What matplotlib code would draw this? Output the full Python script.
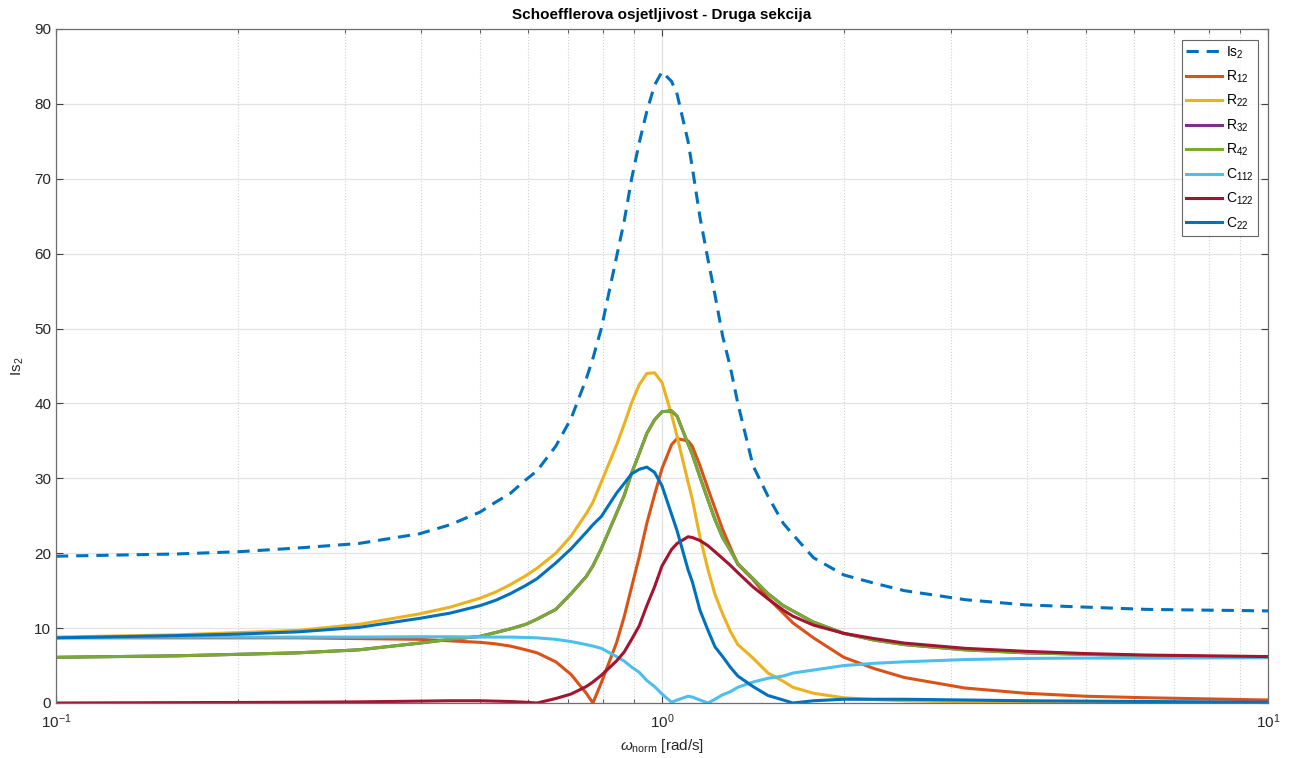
import numpy as np
import matplotlib
matplotlib.use('Agg')
import matplotlib.pyplot as plt
from matplotlib.ticker import LogLocator, NullFormatter, MultipleLocator

# normirana frekvencija (log skala)
w = [0.1, 0.158, 0.200, 0.251, 0.316, 0.398, 0.447, 0.501, 0.531, 0.562,
     0.596, 0.622, 0.668, 0.708, 0.750, 0.769, 0.794, 0.841, 0.866, 0.891,
     0.917, 0.944, 0.972, 1.0, 1.037, 1.059, 1.104, 1.122, 1.155, 1.191,
     1.223, 1.259, 1.296, 1.334, 1.413, 1.496, 1.585, 1.644, 1.778, 1.995,
     2.239, 2.512, 3.162, 3.981, 5.012, 6.310, 10.0]

Is2 = [19.6, 19.9, 20.2, 20.7, 21.3, 22.6, 23.8, 25.5, 26.8, 28.0,
       29.8, 31.0, 34.3, 38.0, 43.3, 46.0, 50.0, 59.5, 64.3, 70.0,
       74.8, 79.0, 82.5, 84.3, 83.0, 81.3, 75.0, 71.5, 64.9, 59.2,
       54.5, 49.0, 44.9, 40.0, 31.7, 27.6, 24.0, 22.5, 19.4, 17.1,
       16.0, 15.0, 13.8, 13.1, 12.8, 12.5, 12.3]

R12 = [8.7, 8.7, 8.7, 8.7, 8.6, 8.5, 8.3, 8.1, 7.9, 7.6,
       7.1, 6.7, 5.5, 3.8, 1.3, 0.0, 2.7, 8.0, 11.5, 15.5,
       19.5, 24.0, 27.8, 31.3, 34.5, 35.3, 35.0, 34.3, 31.7, 28.6,
       26.0, 23.2, 20.8, 18.5, 16.5, 14.0, 12.0, 10.7, 8.7, 6.1,
       4.6, 3.4, 2.0, 1.3, 0.9, 0.7, 0.4]

R22 = [8.8, 9.1, 9.4, 9.7, 10.5, 11.9, 12.8, 14.0, 14.8, 15.8,
       17.0, 18.0, 20.0, 22.3, 25.3, 26.8, 29.5, 34.4, 37.2, 40.1,
       42.5, 44.0, 44.1, 42.8, 38.5, 35.6, 29.5, 27.2, 22.2, 17.8,
       14.5, 11.9, 9.6, 7.8, 6.0, 4.0, 2.9, 2.1, 1.3, 0.7,
       0.45, 0.3, 0.15, 0.08, 0.05, 0.03, 0.02]

R42 = [6.1, 6.3, 6.5, 6.7, 7.1, 8.0, 8.5, 8.9, 9.4, 9.9,
       10.5, 11.2, 12.5, 14.6, 16.9, 18.3, 20.6, 25.3, 27.7, 30.7,
       33.3, 36.0, 37.8, 38.9, 39.0, 38.3, 34.6, 33.2, 30.2, 27.1,
       24.5, 22.1, 20.4, 18.6, 16.6, 14.6, 13.0, 12.3, 10.8, 9.3,
       8.4, 7.8, 7.1, 6.7, 6.5, 6.3, 6.1]

# R32 se na slici ne vidi - lezi ispod R42
R32 = list(R42)

C112 = [8.75, 8.8, 8.8, 8.8, 8.8, 8.85, 8.85, 8.8, 8.8, 8.8,
        8.75, 8.7, 8.5, 8.2, 7.8, 7.6, 7.3, 6.2, 5.6, 4.8,
        4.1, 3.0, 2.2, 1.2, 0.1, 0.4, 0.9, 0.8, 0.4, 0.0,
        0.5, 1.1, 1.5, 2.1, 2.8, 3.3, 3.6, 4.0, 4.4, 5.0,
        5.3, 5.5, 5.8, 5.95, 6.0, 6.0, 6.05]

C122 = [0.0, 0.05, 0.07, 0.1, 0.15, 0.25, 0.3, 0.3, 0.25, 0.2,
        0.1, 0.0, 0.6, 1.2, 2.2, 2.8, 3.7, 5.6, 6.8, 8.5,
        10.3, 13.0, 15.5, 18.3, 20.5, 21.3, 22.2, 22.1, 21.7, 21.0,
        20.2, 19.3, 18.4, 17.4, 15.5, 13.9, 12.4, 11.6, 10.4, 9.3,
        8.6, 8.0, 7.3, 6.9, 6.6, 6.4, 6.2]

C22 = [8.7, 9.0, 9.2, 9.5, 10.1, 11.3, 12.0, 13.0, 13.7, 14.6,
       15.7, 16.6, 18.7, 20.6, 22.8, 23.8, 24.9, 28.0, 29.3, 30.6,
       31.2, 31.5, 30.8, 29.0, 25.2, 23.0, 17.8, 16.2, 12.4, 9.7,
       7.5, 6.2, 4.8, 3.6, 2.2, 1.0, 0.4, 0.0, 0.3, 0.5,
       0.5, 0.5, 0.4, 0.3, 0.25, 0.2, 0.1]

plt.rcParams['font.family'] = ['Liberation Sans', 'DejaVu Sans']
plt.rcParams['mathtext.fontset'] = 'custom'
plt.rcParams['mathtext.rm'] = 'Liberation Sans'
plt.rcParams['mathtext.it'] = 'Liberation Sans:italic'
plt.rcParams['mathtext.bf'] = 'Liberation Sans:bold'

fig = plt.figure(figsize=(12.91, 7.58), dpi=100)
ax = fig.add_axes([56 / 1291, 55 / 758, 1212 / 1291, 674 / 758])

lw = 2.2
ax.plot(w, Is2, color='#0072BD', linestyle=(0, (4, 2.6)), linewidth=lw, label='Is$_2$')
ax.plot(w, R12, color='#D95319', linewidth=lw, label='R$_{12}$')
ax.plot(w, R22, color='#EDB120', linewidth=lw, label='R$_{22}$')
ax.plot(w, R32, color='#7E2F8E', linewidth=lw, label='R$_{32}$')
ax.plot(w, R42, color='#77AC30', linewidth=lw, label='R$_{42}$')
ax.plot(w, C112, color='#4DBEEE', linewidth=lw, label='C$_{112}$')
ax.plot(w, C122, color='#A2142F', linewidth=lw, label='C$_{122}$')
ax.plot(w, C22, color='#0072BD', linewidth=lw, label='C$_{22}$')

ax.set_xscale('log')
ax.set_xlim(0.1, 10)
ax.set_ylim(0, 90)
ax.yaxis.set_major_locator(MultipleLocator(10))
ax.xaxis.set_minor_locator(LogLocator(base=10, subs=np.arange(2, 10)))
ax.xaxis.set_minor_formatter(NullFormatter())

ax.grid(True, which='major', color='#e3e3e3', linewidth=0.9)
ax.grid(True, which='minor', axis='x', color='#d0d0d0', linestyle=':', linewidth=0.8)
ax.set_axisbelow(True)

ax.tick_params(which='both', direction='in', top=True, right=True,
               colors='#404040', labelcolor='#262626', labelsize=11)
ax.tick_params(which='major', length=5)
ax.tick_params(which='minor', length=3)
ax.tick_params(axis='x', which='major', pad=7)
for s in ax.spines.values():
    s.set_color('#6e6e6e')
    s.set_linewidth(0.9)

ax.set_title('Schoefflerova osjetljivost - Druga sekcija', fontsize=11, fontweight='bold', pad=7)
ax.set_xlabel(r'$\omega_{\mathrm{norm}}$ [rad/s]', fontsize=11, color='#262626', labelpad=4)
ax.set_ylabel('Is$_2$', fontsize=11, color='#262626', labelpad=6)

leg = ax.legend(loc='upper right', fontsize=10, frameon=True, fancybox=False,
                edgecolor='#404040', handlelength=2.6, handletextpad=0.25,
                labelspacing=0.58, borderpad=0.3, borderaxespad=0,
                bbox_to_anchor=(0.9917, 0.9837))
leg.get_frame().set_linewidth(0.8)

plt.savefig('out.png', dpi=100)
